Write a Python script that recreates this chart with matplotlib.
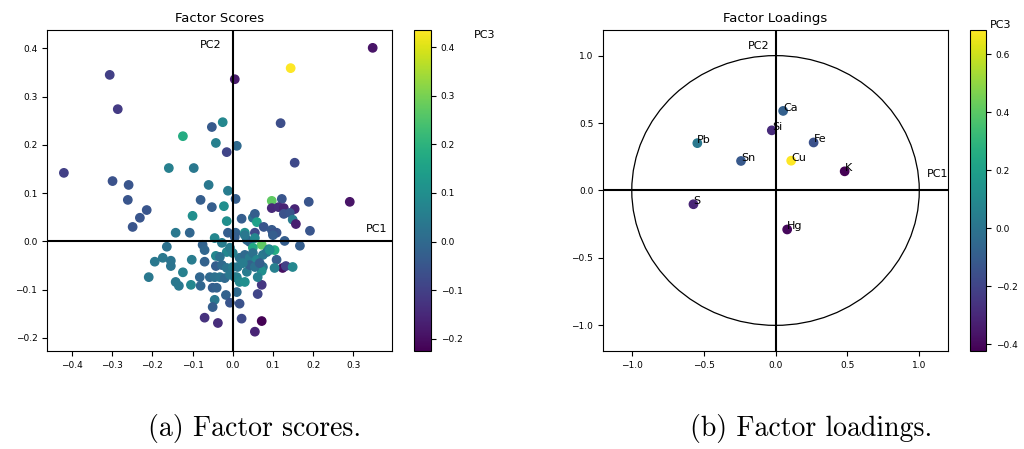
import matplotlib
matplotlib.use("Agg")
import matplotlib.pyplot as plt
from matplotlib.patches import Circle

plt.rcParams["xtick.labelsize"] = 6.5
plt.rcParams["ytick.labelsize"] = 6.5

# factor scores of the samples (PC1, PC2, PC3 as colour)
score_pc1 = [0.348, 0.144, -0.306, 0.005, -0.286, 0.119, -0.025, -0.052, -0.124, -0.042,
             0.010, -0.015, 0.154, -0.420, -0.159, -0.097, -0.299, -0.259, -0.060, -0.012,
             -0.261, -0.080, 0.007, 0.097, 0.122, 0.189, 0.291, -0.214, -0.052, -0.022,
             0.097, 0.114, 0.127, 0.154, -0.231, -0.100, -0.015, 0.022, 0.050, 0.055,
             0.060, 0.127, 0.142, 0.149, 0.157, -0.249, 0.077, 0.097, 0.109, 0.100,
             0.192, -0.142, -0.107, -0.012, 0.007, 0.030, 0.055, -0.045, 0.129, 0.042,
             0.167, 0.072, 0.050, 0.104, 0.090, -0.075, -0.070, -0.164, -0.027, 0.005,
             0.035, -0.174, -0.194, -0.154, -0.154, -0.102, -0.070, -0.042, -0.042, -0.015,
             -0.007, -0.032, -0.027, -0.015, 0.000, -0.209, -0.124, -0.142, -0.134, -0.104,
             -0.080, -0.082, -0.057, -0.045, -0.032, -0.020, -0.007, 0.005, -0.050, -0.040,
             -0.017, 0.010, -0.045, -0.050, -0.007, -0.070, -0.037, 0.017, 0.022, 0.072,
             0.055, 0.072, 0.062, 0.109, 0.124, 0.132, 0.104, 0.149, 0.017, 0.030,
             0.042, 0.050, 0.060, 0.075, 0.085, 0.092, 0.075, 0.072, 0.062, 0.035,
             0.010, 0.017, 0.030, 0.012, 0.042, 0.055, 0.067, 0.025, 0.000, 0.055,
             0.100, 0.030]
score_pc2 = [0.401, 0.359, 0.345, 0.336, 0.274, 0.245, 0.247, 0.237, 0.218, 0.204,
             0.198, 0.185, 0.163, 0.142, 0.152, 0.152, 0.125, 0.117, 0.117, 0.105,
             0.086, 0.086, 0.088, 0.084, 0.088, 0.082, 0.082, 0.065, 0.071, 0.073,
             0.069, 0.071, 0.069, 0.067, 0.049, 0.053, 0.042, 0.047, 0.049, 0.057,
             0.040, 0.057, 0.059, 0.045, 0.036, 0.030, 0.030, 0.024, 0.018, 0.016,
             0.022, 0.018, 0.018, 0.018, 0.018, 0.018, 0.018, 0.007, 0.001, -0.001,
             -0.009, -0.007, -0.013, -0.018, -0.016, -0.007, -0.018, -0.011, -0.003, 0.009,
             0.003, -0.034, -0.042, -0.040, -0.051, -0.038, -0.042, -0.030, -0.051, -0.022,
             -0.013, -0.032, -0.049, -0.055, -0.053, -0.074, -0.064, -0.084, -0.092, -0.090,
             -0.092, -0.074, -0.074, -0.074, -0.074, -0.076, -0.069, -0.074, -0.096, -0.096,
             -0.111, -0.105, -0.121, -0.136, -0.127, -0.158, -0.169, -0.129, -0.160, -0.165,
             -0.187, -0.090, -0.109, -0.038, -0.055, -0.051, -0.055, -0.053, -0.034, -0.028,
             -0.034, -0.024, -0.038, -0.028, -0.022, -0.018, -0.053, -0.061, -0.074, -0.063,
             -0.074, -0.084, -0.084, -0.053, -0.049, -0.053, -0.045, -0.045, -0.024, 0.007,
             0.013, 0.013]
score_pc3 = [-0.19, 0.435, -0.10, -0.18, -0.11, -0.07, 0.08, -0.04, 0.18, 0.06,
             0.00, -0.09, -0.08, -0.10, 0.06, 0.04, -0.06, -0.05, 0.04, 0.05,
             -0.05, -0.03, -0.03, 0.27, -0.05, -0.05, -0.19, -0.05, -0.03, 0.10,
             -0.15, -0.14, -0.16, -0.16, -0.05, 0.10, 0.10, -0.03, 0.02, -0.03,
             0.15, -0.06, -0.05, 0.05, -0.17, -0.05, -0.05, -0.04, -0.05, -0.06,
             -0.05, 0.04, -0.01, -0.03, -0.02, 0.10, -0.08, 0.08, -0.03, -0.03,
             -0.03, 0.27, 0.17, 0.18, 0.06, -0.02, -0.01, 0.02, 0.05, -0.03,
             0.00, 0.04, 0.04, 0.03, 0.03, 0.05, -0.02, 0.08, -0.03, 0.08,
             0.05, 0.02, 0.00, 0.03, 0.05, 0.04, 0.06, 0.04, 0.04, 0.08,
             -0.01, -0.01, 0.00, 0.02, 0.03, 0.00, 0.04, 0.03, -0.03, -0.02,
             -0.02, 0.00, 0.04, -0.03, -0.05, -0.13, -0.14, -0.06, -0.08, -0.225,
             -0.16, -0.12, -0.09, -0.03, -0.20, -0.10, 0.06, 0.08, 0.03, 0.00,
             0.05, 0.02, 0.08, 0.04, 0.03, 0.10, 0.03, 0.10, 0.06, 0.05,
             0.06, 0.08, 0.10, 0.04, -0.02, 0.02, -0.03, 0.05, 0.06, 0.08,
             -0.03, 0.04]

# factor loadings of the measured elements
elements = ["Ca", "Si", "Pb", "Fe", "Sn", "Cu", "K", "S", "Hg"]
load_pc1 = [0.053, -0.026, -0.544, 0.265, -0.240, 0.109, 0.481, -0.571, 0.081]
load_pc2 = [0.590, 0.446, 0.351, 0.356, 0.219, 0.221, 0.142, -0.102, -0.289]
load_pc3 = [-0.09, -0.29, 0.02, -0.15, -0.12, 0.684, -0.423, -0.31, -0.40]

fig = plt.figure(figsize=(10.24, 4.49), dpi=100)

# scores
ax1 = fig.add_axes([0.0459, 0.2183, 0.3369, 0.7149])
cax1 = fig.add_axes([0.4043, 0.2183, 0.0166, 0.7149])
sc = ax1.scatter(score_pc1, score_pc2, c=score_pc3, cmap="viridis")
ax1.axhline(0, color="k", lw=1.5)
ax1.axvline(0, color="k", lw=1.5)
ax1.text(0.33, 0.02, "PC1", fontsize=8)
ax1.text(-0.082, 0.40, "PC2", fontsize=8)
ax1.set_xlim(-0.462, 0.396)
ax1.set_ylim(-0.227, 0.438)
ax1.set_title("Factor Scores", fontsize=9.5)
fig.colorbar(sc, cax=cax1)
fig.text(474 / 1024, 1 - 35 / 449, "PC3", fontsize=8, va="center")

# loadings
ax2 = fig.add_axes([0.5889, 0.2183, 0.3369, 0.7149])
cax2 = fig.add_axes([0.9473, 0.2183, 0.0156, 0.7149])
sc2 = ax2.scatter(load_pc1, load_pc2, c=load_pc3, cmap="viridis")
for name, px, py in zip(elements, load_pc1, load_pc2):
    ax2.annotate(name, (px, py), fontsize=8)
ax2.add_patch(Circle((0, 0), 1.0, fill=False, color="k", lw=0.9))
ax2.axhline(0, color="k", lw=1.5)
ax2.axvline(0, color="k", lw=1.5)
ax2.text(1.05, 0.1, "PC1", fontsize=8)
ax2.text(-0.19, 1.05, "PC2", fontsize=8)
ax2.set_xlim(-1.2, 1.2)
ax2.set_ylim(-1.19, 1.19)
ax2.set_xticks([-1.0, -0.5, 0.0, 0.5, 1.0])
ax2.set_yticks([-1.0, -0.5, 0.0, 0.5, 1.0])
ax2.set_title("Factor Loadings", fontsize=9.5)
fig.colorbar(sc2, cax=cax2)
fig.text(990 / 1024, 1 - 25 / 449, "PC3", fontsize=8, va="center")

# sub-captions
fig.text(255 / 1024, 0.045, "(a) Factor scores.", family="cmr10", fontsize=20,
         ha="center", va="center")
fig.text(811 / 1024, 0.045, "(b) Factor loadings.", family="cmr10", fontsize=20,
         ha="center", va="center")

fig.savefig("out.png", dpi=100)
